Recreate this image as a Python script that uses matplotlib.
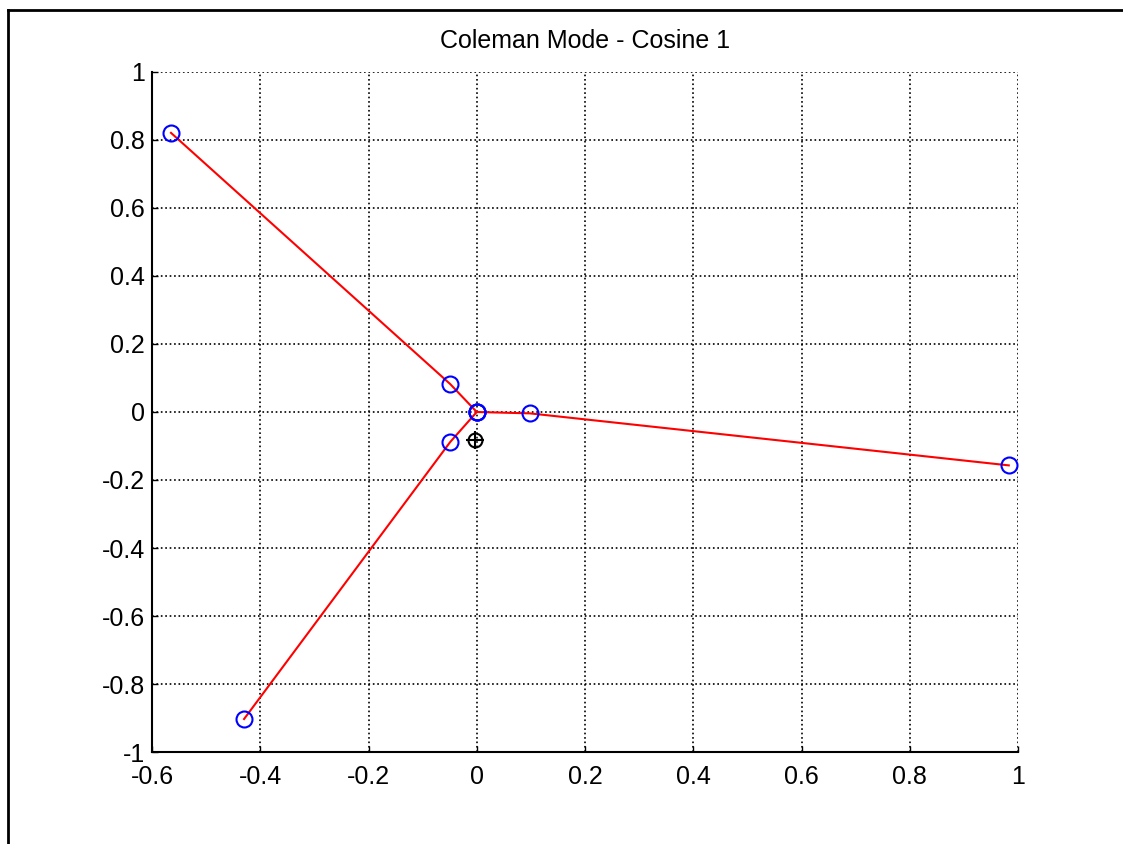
import matplotlib.pyplot as plt
from matplotlib.lines import Line2D

plt.rcParams['font.family'] = ['Liberation Sans', 'DejaVu Sans']

# Blade node positions (hub -> mid -> tip) for each of the three blades
blade1_x = [0.0, -0.049, -0.565]
blade1_y = [0.0, 0.082, 0.821]
blade2_x = [0.0, 0.098, 0.983]
blade2_y = [0.0, -0.004, -0.157]
blade3_x = [0.0, -0.049, -0.430]
blade3_y = [0.0, -0.088, -0.903]

# Centre of mass marker
com_x = [-0.004]
com_y = [-0.082]

x_ticks = [-0.6, -0.4, -0.2, 0, 0.2, 0.4, 0.6, 0.8, 1]
y_ticks = [-1, -0.8, -0.6, -0.4, -0.2, 0, 0.2, 0.4, 0.6, 0.8, 1]
x_labels = ['-0.6', '-0.4', '-0.2', '0', '0.2', '0.4', '0.6', '0.8', '1']
y_labels = ['-1', '-0.8', '-0.6', '-0.4', '-0.2', '0', '0.2', '0.4', '0.6', '0.8', '1']

fig = plt.figure(figsize=(11.23, 8.44), dpi=100)
ax = fig.add_axes([0.1354, 0.109, 0.7711, 0.8057])

for bx, by in [(blade1_x, blade1_y), (blade2_x, blade2_y), (blade3_x, blade3_y)]:
    ax.plot(bx, by, color='red', linewidth=1.5, zorder=3)
    ax.plot(bx, by, linestyle='none', marker='o', markersize=11.5,
            markerfacecolor='none', markeredgecolor='blue', markeredgewidth=1.5, zorder=4)

ax.plot(com_x, com_y, linestyle='none', marker='o', markersize=10,
        markerfacecolor='none', markeredgecolor='black', markeredgewidth=1.5, zorder=5)
ax.plot(com_x, com_y, linestyle='none', marker='+', markersize=12.5,
        markeredgecolor='black', markeredgewidth=1.5, zorder=5)

ax.set_xlim(-0.6, 1)
ax.set_ylim(-1, 1)
ax.set_xticks(x_ticks)
ax.set_xticklabels(x_labels)
ax.set_yticks(y_ticks)
ax.set_yticklabels(y_labels)
ax.tick_params(direction='in', length=4, width=1, labelsize=18,
               top=False, right=False)
ax.tick_params(axis='y', pad=5)
ax.tick_params(axis='x', pad=9)
ax.grid(True, color='black', linestyle=':', linewidth=1.2)
ax.set_axisbelow(True)
ax.spines['top'].set_visible(False)
ax.spines['right'].set_visible(False)
ax.spines['left'].set_linewidth(1.5)
ax.spines['bottom'].set_linewidth(1.5)
ax.set_title('Coleman Mode - Cosine 1', fontsize=18, pad=17)

# frame around the figure
fig.add_artist(Line2D([7.5 / 1123, 7.5 / 1123], [0, 1 - 10 / 844], color='black', linewidth=2))
fig.add_artist(Line2D([7.5 / 1123, 1], [1 - 10 / 844, 1 - 10 / 844], color='black', linewidth=2))

fig.savefig('out.png', dpi=100)
